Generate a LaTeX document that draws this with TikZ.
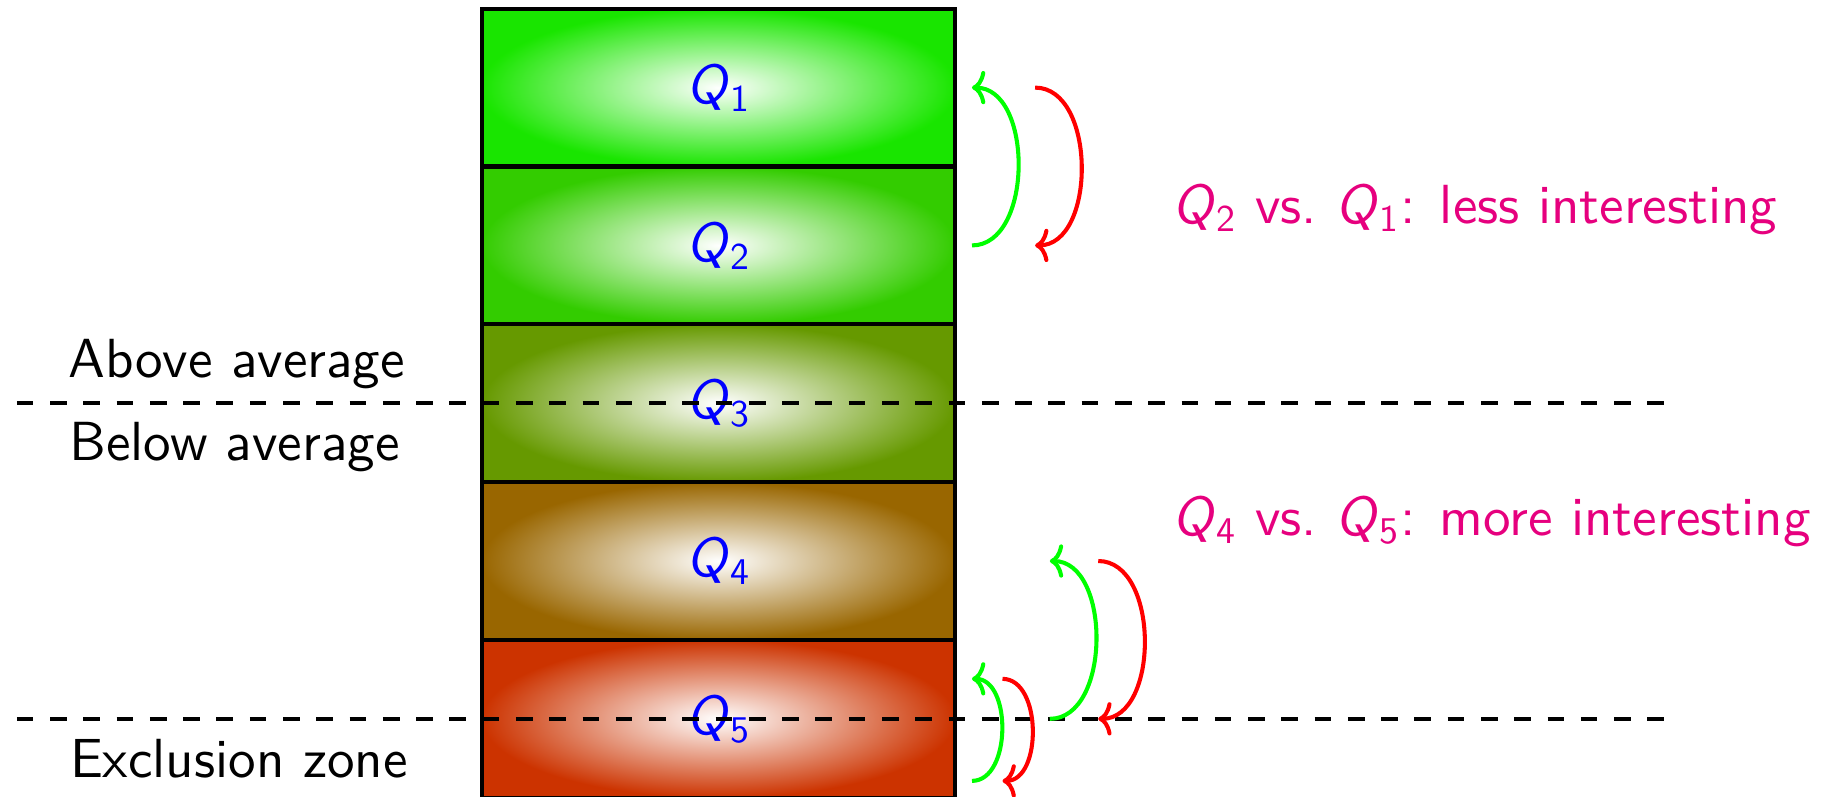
\documentclass[tikz,border=0pt]{standalone}
\usepackage{fontspec}
\setsansfont{lmsans10-regular.otf}[ItalicFont=lmsans10-oblique.otf]
\usepackage{tikz}
\usetikzlibrary{arrows.meta}
\definecolor{hotpink}{RGB}{230,0,126}
\newcommand{\qsub}[1]{\textit{Q}$_{\hbox{\fontsize{10.2}{12}\selectfont #1}}$}

\begin{document}
\begin{tikzpicture}[font=\fontsize{14.9}{18}\sffamily,
    qbox/.style={rectangle,draw,line width=1.1pt,minimum width=4.5cm,
      minimum height=1.5cm,inner color=white,text=blue},
    zone/.style={line width=1.1pt,dash pattern=on 4.5pt off 4.5pt},
    swap/.style={line width=1.1pt,-{To[length=3.6pt,width=9pt]}},
    note/.style={text=hotpink,anchor=base west}]
    \useasboundingbox (0,0.007) rectangle (17.5,7.583);
            \draw (6.83,6.75) node[qbox,outer color=red!10!green] (Q1) {\qsub{1}};
            \draw (6.83,5.25) node[qbox,outer color=red!20!green] (Q2) {\qsub{2}};
            \draw (6.83,3.75) node[qbox,outer color=red!40!green] (Q3) {\qsub{3}};
            \draw (6.83,2.25) node[qbox,outer color=red!60!green] (Q4) {\qsub{4}};
            \draw (6.83,0.75) node[qbox,outer color=red!80!green] (Q5) {\qsub{5}};
            % zone borders
            \draw[zone] (0.16,3.75) -- (15.83,3.75);
            \draw[zone] (0.16,0.75) -- (15.83,0.75);
            \draw (2.25,3.99) node[anchor=base] (above) {Above average};
            \draw (2.23,3.21) node[anchor=base] (below) {Below average};
            \draw (2.27,0.19) node[anchor=base] (excl) {Exclusion zone};
            \draw (11.02,5.456) node[note] (less) {\qsub{2} vs.\ \qsub{1}: less interesting};
            \draw (11.02,2.49) node[note] (more) {\qsub{4} vs.\ \qsub{5}: more interesting};
            % swaps
            \draw[swap,green] ([xshift=.14cm]Q2.east) to[out=0,in=0] ([xshift=.14cm]Q1.east);
            \draw[swap,red] ([xshift=.74cm]Q1.east) to[out=0,in=0] ([xshift=.74cm]Q2.east);
            \draw[swap,green] ([shift={(.14,-.59)}]Q5.east) to[out=0,in=0] ([shift={(.14,.38)}]Q5.east);
            \draw[swap,red] ([shift={(.43,.38)}]Q5.east) to[out=0,in=0] ([shift={(.43,-.59)}]Q5.east);
            \draw[swap,green] ([xshift=.88cm]Q5.east) to[out=0,in=0] ([xshift=.88cm]Q4.east);
            \draw[swap,red] ([xshift=1.34cm]Q4.east) to[out=0,in=0] ([xshift=1.34cm]Q5.east);
        \end{tikzpicture}
\end{document}
